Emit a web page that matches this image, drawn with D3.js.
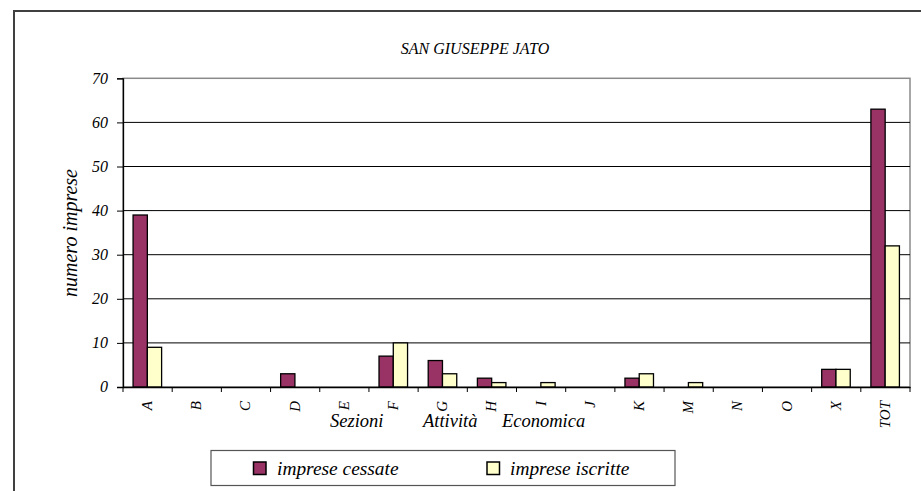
<!DOCTYPE html>
<html><head><meta charset="utf-8">
<script src="https://cdn.jsdelivr.net/npm/d3@7"></script>
<style>body{margin:0;background:#fff;}</style></head>
<body><svg id="c" width="921" height="491" font-family="Liberation Serif" font-style="italic"></svg>
<script>
const title = "SAN GIUSEPPE JATO";
const categories = ["A","B","C","D","E","F","G","H","I","J","K","M","N","O","X","TOT"];
const cessate =   [39,0,0,3,0,7,6,2,0,0,2,0,0,0,4,63];
const iscritte =  [9,0,0,0,0,10,3,1,1,0,3,1,0,0,4,32];
const yTicks = [0,10,20,30,40,50,60,70];
const seriesNames = ["imprese cessate","imprese iscritte"];
const xTitleParts = ["Sezioni","Attività","Economica"];
const yTitle = "numero imprese";
const colors = ["#993366","#FFFFCC"];

const FF = "Liberation Serif";
const svg = d3.select("#c");
function txt(sel){ return sel.attr("font-family",FF).attr("font-style","italic").attr("fill","#000"); }

// outer frame
svg.append("rect").attr("x",14).attr("y",11).attr("width",920).attr("height",500)
  .attr("fill","none").attr("stroke","#404040").attr("stroke-width",2);

const L=123, R=910, T=78.3, B=387;
const x = d3.scaleBand().domain(categories).range([L,R]).padding(0);
const y = d3.scaleLinear().domain([0,70]).range([B,T]);
const step = x.step();
const bw = step*0.29;
const off = step*0.205;

// plot border (gray)
svg.append("rect").attr("x",L).attr("y",T).attr("width",R-L).attr("height",B-T)
  .attr("fill","none").attr("stroke","#8a8a8a").attr("stroke-width",1.5);
// gridlines
svg.append("g").selectAll("line").data(yTicks.filter(d=>d>0 && d<70)).join("line")
  .attr("x1",L).attr("x2",R).attr("y1",d=>y(d)).attr("y2",d=>y(d))
  .attr("stroke","#000").attr("stroke-width",1);

// y axis
const ya = svg.append("g").attr("transform",`translate(${L},0)`)
  .call(d3.axisLeft(y).tickValues(yTicks).tickSize(6).tickPadding(9));
ya.attr("font-family",FF).attr("font-size",16).attr("font-style","italic");
ya.select(".domain").attr("stroke","#000").attr("stroke-width",1.3);
ya.selectAll("line").attr("stroke","#000");
ya.selectAll("text").attr("dy","0.3em");

// bars
const g = svg.append("g");
[cessate,iscritte].forEach((vals,si)=>{
  g.append("g").selectAll("rect").data(categories).join("rect")
    .attr("x",(d)=>x(d)+off+si*bw)
    .attr("y",(d,i)=>y(vals[i]))
    .attr("width",bw)
    .attr("height",(d,i)=>B-y(vals[i]))
    .attr("fill",colors[si]).attr("stroke","#000").attr("stroke-width",1.3)
    .attr("display",(d,i)=>vals[i]>0?null:"none");
});

// x axis
const xa = svg.append("g").attr("transform",`translate(0,${B})`)
  .call(d3.axisBottom(x).tickSize(0).tickFormat(""));
xa.select(".domain").attr("stroke","#000").attr("stroke-width",1.3);
svg.append("g").selectAll("line").data(categories.concat(["__end"])).join("line")
  .attr("x1",(d,i)=>L+i*step).attr("x2",(d,i)=>L+i*step)
  .attr("y1",B).attr("y2",B+5).attr("stroke","#000").attr("stroke-width",1);
txt(svg.append("g").selectAll("text").data(categories).join("text"))
  .attr("transform",d=>`translate(${x(d)+step/2+4.5},${B+14}) rotate(-90)`)
  .attr("text-anchor","end").attr("font-size",15).text(d=>d);

// title
txt(svg.append("text")).attr("x",475).attr("y",54).attr("text-anchor","middle")
  .attr("font-size",16).text(title);
// y title
txt(svg.append("text")).attr("transform","translate(77,233) rotate(-90)").attr("text-anchor","middle")
  .attr("font-size",20).text(yTitle);
// x title
const xt = txt(svg.append("text")).attr("y",427).attr("font-size",18.5);
const xPos = [330,423,502];
xTitleParts.forEach((p,i)=>xt.append("tspan").attr("x",xPos[i]).text(p));

// legend
svg.append("rect").attr("x",211).attr("y",450.5).attr("width",464).attr("height",35)
  .attr("fill","#fff").attr("stroke","#555").attr("stroke-width",1.2);
const lx=[253.5,487], tx=[277,510];
seriesNames.forEach((n,i)=>{
  svg.append("rect").attr("x",lx[i]).attr("y",462).attr("width",12.5).attr("height",12.5)
    .attr("fill",colors[i]).attr("stroke","#000").attr("stroke-width",1.5);
  txt(svg.append("text")).attr("x",tx[i]).attr("y",475).attr("font-size",19.4).text(n);
});
</script></body></html>
